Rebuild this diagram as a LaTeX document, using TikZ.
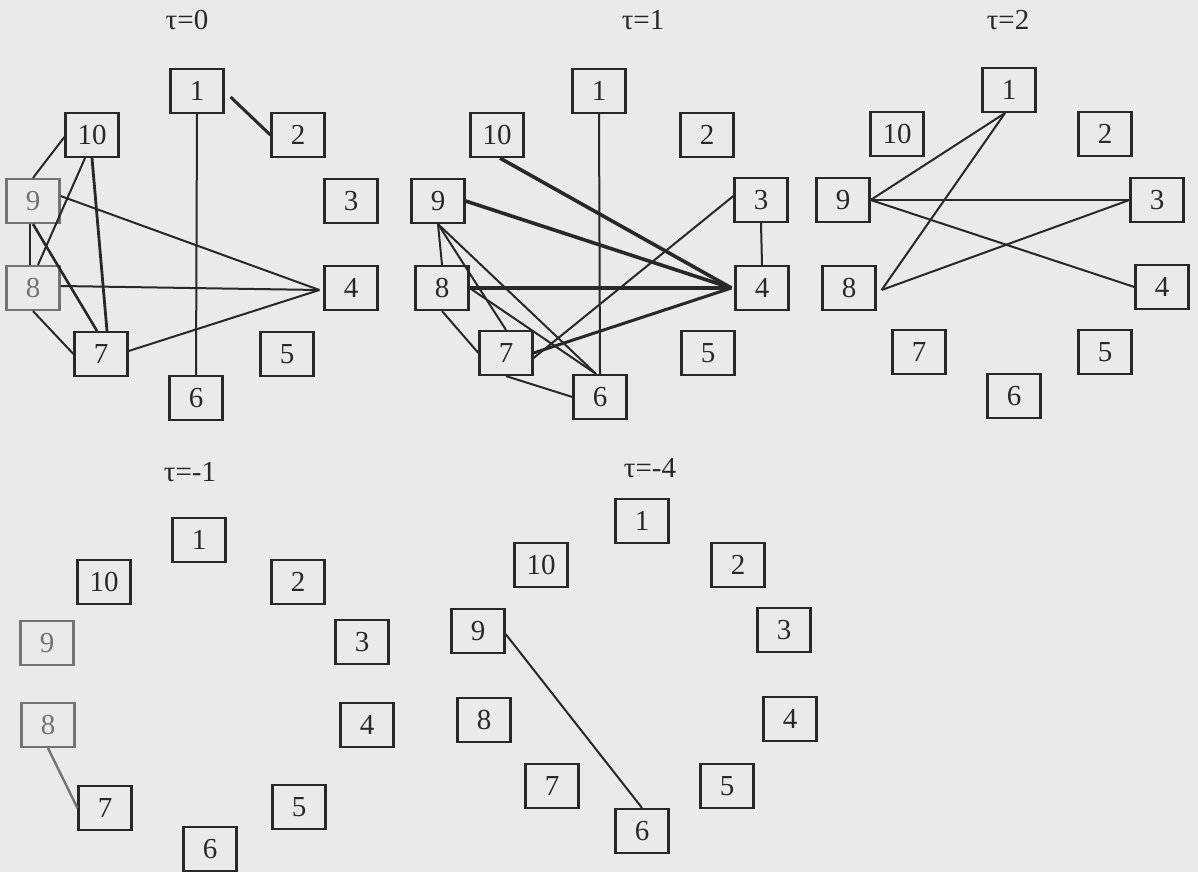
\documentclass[tikz,border=0pt]{standalone}
\usepackage{fontspec}
\setmainfont{Liberation Serif}
\usetikzlibrary{calc}
\definecolor{paper}{RGB}{234,234,232}
\definecolor{ink}{RGB}{40,40,40}
\definecolor{faded}{RGB}{115,115,115}
\tikzset{
  numbox/.style={draw=ink, line width=2.2pt, fill=none, inner sep=0pt,
    minimum width=53pt, minimum height=44pt, text=ink,
    font=\fontsize{29}{29}\selectfont},
  fadedbox/.style={numbox, draw=faded, text=faded},
  taulabel/.style={text=ink, font=\fontsize{29}{29}\selectfont},
  link/.style={draw=ink, line width=2pt},
  boldlink/.style={draw=ink, line width=3.6pt},
}
\begin{document}
\begin{tikzpicture}[x=1pt, y=-1pt]
\fill[paper] (0,0) rectangle (1198,872);
\useasboundingbox (0,0) rectangle (1198,872);

% ---------- tau = 0 ----------
\node[taulabel] (t0) at (187,20) {τ=0};
\begin{scope}[every node/.append style={minimum width=54pt}]
\node[numbox] (a1) at (197,91) {1};
\node[numbox] (a2) at (298,135) {2};
\node[numbox] (a10) at (92,135) {10};
\node[numbox] (a3) at (351,201) {3};
\node[fadedbox] (a9) at (33,201) {9};
\node[fadedbox] (a8) at (33,288) {8};
\node[numbox] (a4) at (351,288) {4};
\node[numbox] (a7) at (101,354) {7};
\node[numbox] (a5) at (287,354) {5};
\node[numbox] (a6) at (196,398) {6};
\end{scope}
\coordinate (a4in) at ($(a4.west)+(-4,2)$);
\draw[link] (a1.south) -- (a6.north);
\draw[link, line width=3pt] ($(a1.east)+(6,6)$) -- (a2.west);
\draw[link] ([yshift=-2pt]a10.west) -- (a9.north);
\draw[link] ([xshift=-7pt]a10.south) -- ([xshift=5pt]a8.north);
\draw[link, line width=2.8pt] (a10.south) -- ([xshift=6pt]a7.north);
\draw[link, line width=2.8pt] ([xshift=-3pt]a9.south) -- ([xshift=-3pt]a8.north);
\draw[link, line width=2.6pt] (a9.south) -- ([xshift=-4pt]a7.north);
\draw[link] (a8.south) -- (a7.west);
\draw[link] ([yshift=5pt]a9.east) -- (a4in);
\draw[link] ([yshift=2pt]a8.east) -- (a4in);
\draw[link] ([yshift=3pt]a7.east) -- (a4in);

% ---------- tau = 1 ----------
\node[taulabel] (t1) at (643,20) {τ=1};
\begin{scope}[every node/.append style={minimum width=50pt}]
\node[numbox] (b1) at (599,91) {1};
\node[numbox] (b10) at (497,135) {10};
\node[numbox] (b2) at (707,135) {2};
\node[numbox] (b9) at (438,201) {9};
\node[numbox] (b3) at (761,200) {3};
\node[numbox] (b8) at (442,288) {8};
\node[numbox] (b4) at (762,288) {4};
\node[numbox] (b7) at (506,353) {7};
\node[numbox] (b5) at (708,353) {5};
\node[numbox] (b6) at (600,397) {6};
\end{scope}
\draw[link] (b1.south) -- (b6.north);
\draw[boldlink] ([xshift=3pt]b10.south) -- ([xshift=-3pt]b4.west);
\draw[boldlink] (b9.east) -- ([xshift=-3pt]b4.west);
\draw[boldlink] (b8.east) -- ([xshift=-3pt]b4.west);
\draw[boldlink, line width=3pt] (b7.east) -- ([xshift=-3pt]b4.west);
\draw[link] ([yshift=-5pt]b7.east) -- ([yshift=4pt]b3.west);
\draw[link] (b3.south) -- (b4.north);
\draw[link] (b9.south) -- (b8.north);
\draw[link] (b9.south) -- (b7.north);
\draw[link] (b9.south) -- ([xshift=-4pt]b6.north);
\draw[link] (b8.east) -- ([xshift=-4pt]b6.north);
\draw[link] (b8.south) -- (b7.west);
\draw[link] (b7.south) -- (b6.west);

% ---------- tau = 2 ----------
\node[taulabel] (t2) at (1008,20) {τ=2};
\begin{scope}[every node/.append style={minimum width=55pt}]
\node[numbox] (c1) at (1009,90) {1};
\node[numbox] (c10) at (897,134) {10};
\node[numbox] (c2) at (1105,134) {2};
\node[numbox] (c9) at (843,200) {9};
\node[numbox] (c3) at (1157,200) {3};
\node[numbox] (c8) at (849,288) {8};
\node[numbox] (c4) at (1162,287) {4};
\node[numbox] (c7) at (919,352) {7};
\node[numbox] (c5) at (1105,352) {5};
\node[numbox] (c6) at (1014,396) {6};
\end{scope}
\coordinate (c8e) at ($(c8.east)+(5,2)$);
\draw[link] ([xshift=-4pt]c1.south) -- (c9.east);
\draw[link] ([xshift=-4pt]c1.south) -- (c8e);
\draw[link] (c9.east) -- (c3.west);
\draw[link] (c9.east) -- (c4.west);
\draw[link] (c8e) -- (c3.west);

% ---------- tau = -1 ----------
\node[taulabel] (tm1) at (190,472) {τ=-1};
\begin{scope}[every node/.append style={minimum width=53pt, minimum height=41pt}]
\node[numbox] (d1) at (199,540) {1};
\node[numbox] (d10) at (104,582) {10};
\node[numbox] (d2) at (298,582) {2};
\node[fadedbox] (d9) at (47,643) {9};
\node[numbox] (d3) at (362,642) {3};
\node[fadedbox] (d8) at (48,725) {8};
\node[numbox] (d4) at (367,725) {4};
\node[numbox] (d7) at (105,808) {7};
\node[numbox] (d5) at (299,807) {5};
\node[numbox] (d6) at (210,849) {6};
\end{scope}
\draw[link, draw=faded, line width=2.4pt] (d8.south) -- (d7.west);

% ---------- tau = -4 ----------
\node[taulabel] (tm4) at (650,468) {τ=-4};
\begin{scope}[every node/.append style={minimum width=57pt, minimum height=45pt}]
\node[numbox] (e1) at (642,521) {1};
\node[numbox] (e10) at (541,565) {10};
\node[numbox] (e2) at (738,565) {2};
\node[numbox] (e9) at (478,631) {9};
\node[numbox] (e3) at (784,630) {3};
\node[numbox] (e8) at (484,720) {8};
\node[numbox] (e4) at (790,719) {4};
\node[numbox] (e7) at (552,786) {7};
\node[numbox] (e5) at (727,786) {5};
\node[numbox] (e6) at (642,831) {6};
\end{scope}
\draw[link] ([yshift=-3pt]e9.east) -- (e6.north);
\end{tikzpicture}
\end{document}
